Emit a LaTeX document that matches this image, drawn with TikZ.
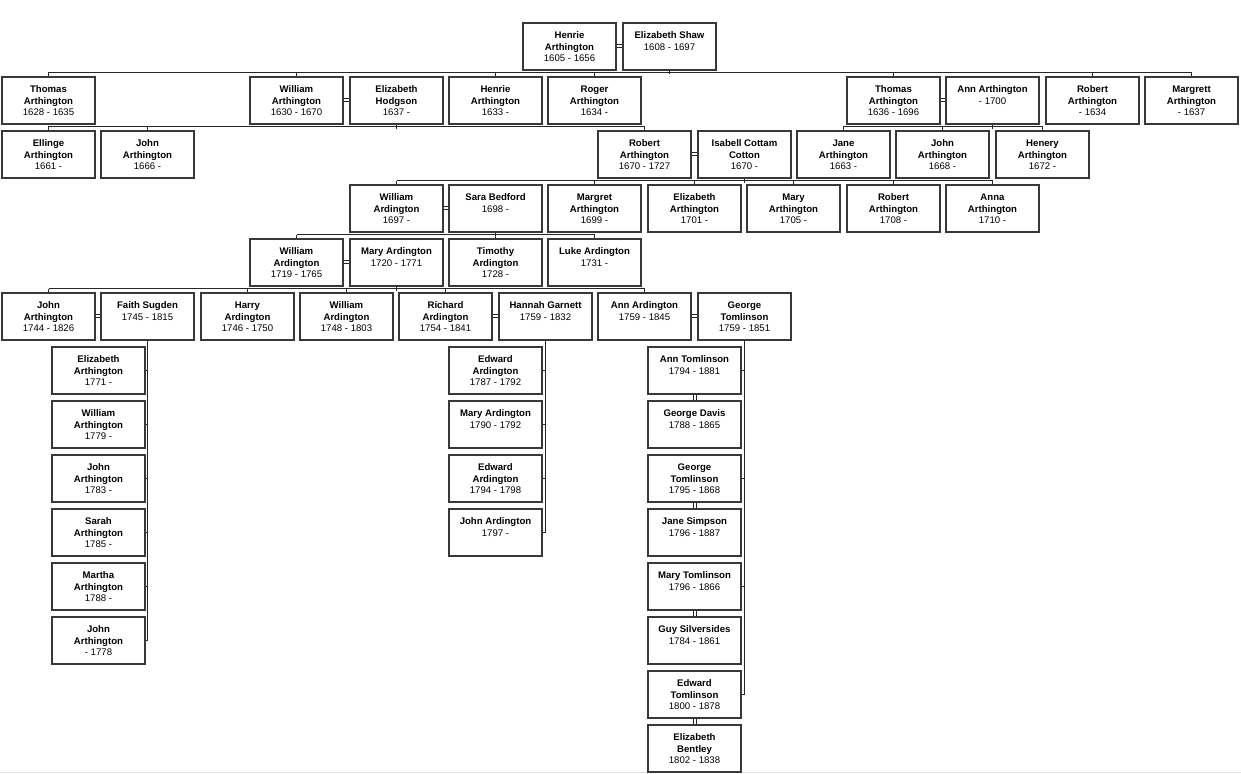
\documentclass[tikz,border=0pt]{standalone}
\usepackage{fontspec}
\setmainfont{Liberation Sans}
\tikzset{
  pbox/.style={draw=black!78, line width=2pt, fill=white, inner sep=0pt, anchor=north west,
    minimum width=93pt, minimum height=47pt, font=\fontsize{9.6}{11.4}\selectfont},
  conn/.style={draw=black!85, line width=1pt},
}
\newcommand\pers[4]{\node[pbox] (#1) at (#2,#3) {\parbox[t][47pt][t]{93pt}{\centering\rule{0pt}{15.7pt}#4}};}
\newcommand\marH[2]{\draw[conn] ([yshift=2pt]#1.east) -- ([yshift=2pt]#2.west) ([yshift=-1pt]#1.east) -- ([yshift=-1pt]#2.west);}
\newcommand\marV[2]{\draw[conn] ([xshift=-1.5pt]#1.south) -- ([xshift=-1.5pt]#2.north) ([xshift=1.5pt]#1.south) -- ([xshift=1.5pt]#2.north);}
\newcommand\dropto[1]{\draw[conn] (#1.north) -- ++(0,-3.5);}
\newcommand\pardown[1]{\draw[conn] (#1.south) -- ++(0,3.5);}
\newcommand\busline[2]{\draw[conn] ([yshift=3.5pt]#1.north) -- ([yshift=3.5pt]#2.north);}
\begin{document}
\begin{tikzpicture}[x=1pt,y=-1pt]
\useasboundingbox (0,0) rectangle (1241,773);
\draw[black!12, line width=1.5pt] (0,772.3) -- (1241,772.3);
% row 0
\pers{r}{522}{22}{\textbf{Henrie}\\\textbf{Arthington}\\1605 - 1656}
\pers{es}{622}{22}{\textbf{Elizabeth Shaw}\\1608 - 1697}
% row 1
\pers{t1}{1}{76}{\textbf{Thomas}\\\textbf{Arthington}\\1628 - 1635}
\pers{w1}{249}{76}{\textbf{William}\\\textbf{Arthington}\\1630 - 1670}
\pers{eh}{349}{76}{\textbf{Elizabeth}\\\textbf{Hodgson}\\1637 -}
\pers{h1}{448}{76}{\textbf{Henrie}\\\textbf{Arthington}\\1633 -}
\pers{ro}{547}{76}{\textbf{Roger}\\\textbf{Arthington}\\1634 -}
\pers{t2}{846}{76}{\textbf{Thomas}\\\textbf{Arthington}\\1636 - 1696}
\pers{an}{945}{76}{\textbf{Ann Arthington}\\- 1700}
\pers{rb1}{1045}{76}{\textbf{Robert}\\\textbf{Arthington}\\- 1634}
\pers{mg}{1144}{76}{\textbf{Margrett}\\\textbf{Arthington}\\- 1637}
% row 2
\pers{el}{1}{130}{\textbf{Ellinge}\\\textbf{Arthington}\\1661 -}
\pers{j1}{100}{130}{\textbf{John}\\\textbf{Arthington}\\1666 -}
\pers{rb2}{597}{130}{\textbf{Robert}\\\textbf{Arthington}\\1670 - 1727}
\pers{is}{697}{130}{\textbf{Isabell Cottam}\\\textbf{Cotton}\\1670 -}
\pers{ja}{796}{130}{\textbf{Jane}\\\textbf{Arthington}\\1663 -}
\pers{j2}{895}{130}{\textbf{John}\\\textbf{Arthington}\\1668 -}
\pers{he}{995}{130}{\textbf{Henery}\\\textbf{Arthington}\\1672 -}
% row 3
\pers{wa}{349}{184}{\textbf{William}\\\textbf{Ardington}\\1697 -}
\pers{sb}{448}{184}{\textbf{Sara Bedford}\\1698 -}
\pers{mr}{547}{184}{\textbf{Margret}\\\textbf{Arthington}\\1699 -}
\pers{e3}{647}{184}{\textbf{Elizabeth}\\\textbf{Arthington}\\1701 -}
\pers{my}{746}{184}{\textbf{Mary}\\\textbf{Arthington}\\1705 -}
\pers{rb3}{846}{184}{\textbf{Robert}\\\textbf{Arthington}\\1708 -}
\pers{aa3}{945}{184}{\textbf{Anna}\\\textbf{Arthington}\\1710 -}
% row 4
\pers{w4}{249}{238}{\textbf{William}\\\textbf{Ardington}\\1719 - 1765}
\pers{m4}{349}{238}{\textbf{Mary Ardington}\\1720 - 1771}
\pers{ti}{448}{238}{\textbf{Timothy}\\\textbf{Ardington}\\1728 -}
\pers{lu}{547}{238}{\textbf{Luke Ardington}\\1731 -}
% row 5
\pers{j5}{1}{292}{\textbf{John}\\\textbf{Arthington}\\1744 - 1826}
\pers{fs}{100}{292}{\textbf{Faith Sugden}\\1745 - 1815}
\pers{ha}{200}{292}{\textbf{Harry}\\\textbf{Ardington}\\1746 - 1750}
\pers{w5}{299}{292}{\textbf{William}\\\textbf{Ardington}\\1748 - 1803}
\pers{ri}{398}{292}{\textbf{Richard}\\\textbf{Ardington}\\1754 - 1841}
\pers{hg}{498}{292}{\textbf{Hannah Garnett}\\1759 - 1832}
\pers{aa}{597}{292}{\textbf{Ann Ardington}\\1759 - 1845}
\pers{gt}{697}{292}{\textbf{George}\\\textbf{Tomlinson}\\1759 - 1851}
% stack A
\pers{a1}{51}{346}{\textbf{Elizabeth}\\\textbf{Arthington}\\1771 -}
\pers{a2}{51}{400}{\textbf{William}\\\textbf{Arthington}\\1779 -}
\pers{a3}{51}{454}{\textbf{John}\\\textbf{Arthington}\\1783 -}
\pers{a4}{51}{508}{\textbf{Sarah}\\\textbf{Arthington}\\1785 -}
\pers{a5}{51}{562}{\textbf{Martha}\\\textbf{Arthington}\\1788 -}
\pers{a6}{51}{616}{\textbf{John}\\\textbf{Arthington}\\- 1778}
% stack B
\pers{b1}{448}{346}{\textbf{Edward}\\\textbf{Ardington}\\1787 - 1792}
\pers{b2}{448}{400}{\textbf{Mary Ardington}\\1790 - 1792}
\pers{b3}{448}{454}{\textbf{Edward}\\\textbf{Ardington}\\1794 - 1798}
\pers{b4}{448}{508}{\textbf{John Ardington}\\1797 -}
% stack C
\pers{c1}{647}{346}{\textbf{Ann Tomlinson}\\1794 - 1881}
\pers{c2}{647}{400}{\textbf{George Davis}\\1788 - 1865}
\pers{c3}{647}{454}{\textbf{George}\\\textbf{Tomlinson}\\1795 - 1868}
\pers{c4}{647}{508}{\textbf{Jane Simpson}\\1796 - 1887}
\pers{c5}{647}{562}{\textbf{Mary Tomlinson}\\1796 - 1866}
\pers{c6}{647}{616}{\textbf{Guy Silversides}\\1784 - 1861}
\pers{c7}{647}{670}{\textbf{Edward}\\\textbf{Tomlinson}\\1800 - 1878}
\pers{c8}{647}{724}{\textbf{Elizabeth}\\\textbf{Bentley}\\1802 - 1838}
% marriages
\marH{r}{es}
\marH{w1}{eh}
\marH{t2}{an}
\marH{rb2}{is}
\marH{wa}{sb}
\marH{w4}{m4}
\marH{j5}{fs}
\marH{ri}{hg}
\marH{aa}{gt}
\marV{c1}{c2}
\marV{c3}{c4}
\marV{c5}{c6}
\marV{c7}{c8}
% family: root
\pardown{es}
\busline{t1}{mg}
\foreach \c in {t1,w1,h1,ro,t2,rb1,mg} {\dropto{\c}}
% family: William + Elizabeth Hodgson
\pardown{eh}
\busline{el}{rb2}
\foreach \c in {el,j1,rb2} {\dropto{\c}}
% family: Thomas + Ann
\pardown{an}
\busline{ja}{he}
\foreach \c in {ja,j2,he} {\dropto{\c}}
% family: Robert + Isabell
\pardown{is}
\busline{wa}{aa3}
\foreach \c in {wa,mr,e3,my,rb3,aa3} {\dropto{\c}}
% family: William + Sara
\pardown{sb}
\busline{w4}{lu}
\foreach \c in {w4,ti,lu} {\dropto{\c}}
% family: William + Mary
\pardown{m4}
\busline{j5}{aa}
\foreach \c in {j5,ha,w5,ri,aa} {\dropto{\c}}
% family: John + Faith
\draw[conn] (fs.south) -- (fs.south |- a6.east);
\foreach \c in {a1,a2,a3,a4,a5,a6} {\draw[conn] (\c.east) -- (\c.east -| fs.south);}
% family: Richard + Hannah
\draw[conn] (hg.south) -- (hg.south |- b4.east);
\foreach \c in {b1,b2,b3,b4} {\draw[conn] (\c.east) -- (\c.east -| hg.south);}
% family: Ann + George
\draw[conn] (gt.south) -- (gt.south |- c7.east);
\foreach \c in {c1,c3,c5,c7} {\draw[conn] (\c.east) -- (\c.east -| gt.south);}
\end{tikzpicture}
\end{document}
